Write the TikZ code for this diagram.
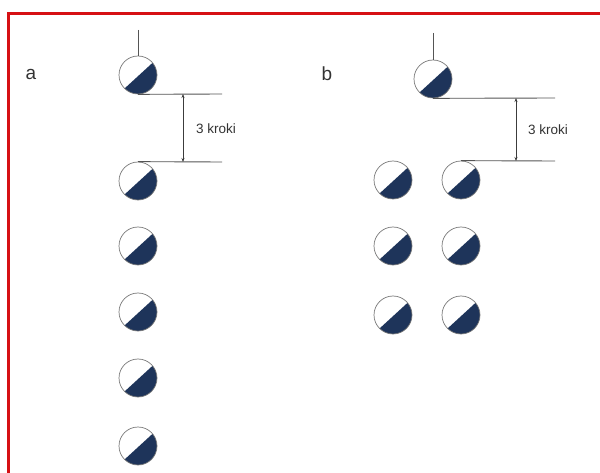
\documentclass[tikz,border=0pt]{standalone}
\usepackage{fontspec}
\setmainfont{Liberation Sans}
\usetikzlibrary{arrows.meta}
\definecolor{navy}{RGB}{30,52,90}
\definecolor{frame}{RGB}{214,16,20}
\definecolor{ln}{RGB}{85,85,85}
\tikzset{
  player/.style={circle, draw=ln!80, line width=0.7pt, minimum size=38pt, inner sep=0pt,
    path picture={\fill[navy] (path picture bounding box.center) ++(40:19.5pt) arc[start angle=40, end angle=-135, radius=19.5pt] -- cycle;}},
  guide/.style={draw=ln, line width=0.9pt},
  dim/.style={draw=ln!70!black, line width=0.8pt, {Stealth[length=4pt,width=3pt]}-{Stealth[length=4pt,width=3pt]}},
  lbl/.style={font=\fontsize{19}{22}\selectfont, text=ln!60!black},
  dimtext/.style={font=\fontsize{13.5}{16}\selectfont, text=ln!60!black}
}
\begin{document}
\begin{tikzpicture}[x=1pt,y=1pt]
\useasboundingbox (0,-473) rectangle (600,0);
\fill[white] (0,-473) rectangle (600,0);
\draw[frame, line width=3pt] (8.5,-473) -- (8.5,-13.5) -- (600,-13.5);

% panel a
\node[lbl] (la) at (31,-74) {a};
\node[player] (a0) at (138,-75) {};
\node[player] (a1) at (138,-181) {};
\node[player] (a2) at (138,-246) {};
\node[player] (a3) at (138,-312) {};
\node[player] (a4) at (138,-378) {};
\node[player] (a5) at (138,-446) {};
\coordinate (a0top) at (138,-30);
\draw[guide] (a0top) -- (a0.north);
\coordinate (a0r) at (222,-94);
\coordinate (a1r) at (222,-162);
\draw[guide] (a0.south) -- (a0r);
\draw[guide] (a1.north) -- (a1r);
\coordinate (ad1) at (183,-94);
\coordinate (ad2) at (183,-162);
\draw[dim] (ad1) -- (ad2);
\node[dimtext] (at) at (216,-129) {3 kroki};

% panel b
\node[lbl] (lb) at (327,-74) {b};
\node[player] (b0) at (433,-79) {};
\node[player] (b11) at (393,-180) {};
\node[player] (b12) at (461,-180) {};
\node[player] (b21) at (393,-246) {};
\node[player] (b22) at (461,-246) {};
\node[player] (b31) at (393,-315) {};
\node[player] (b32) at (461,-315) {};
\coordinate (b0top) at (433,-33);
\draw[guide] (b0top) -- (b0.north);
\coordinate (b0r) at (555,-98);
\coordinate (b1r) at (555,-161);
\draw[guide] (b0.south) -- (b0r);
\draw[guide] (b12.north) -- (b1r);
\coordinate (bd1) at (516,-98);
\coordinate (bd2) at (516,-161);
\draw[dim] (bd1) -- (bd2);
\node[dimtext] (bt) at (548,-130) {3 kroki};
\end{tikzpicture}
\end{document}
